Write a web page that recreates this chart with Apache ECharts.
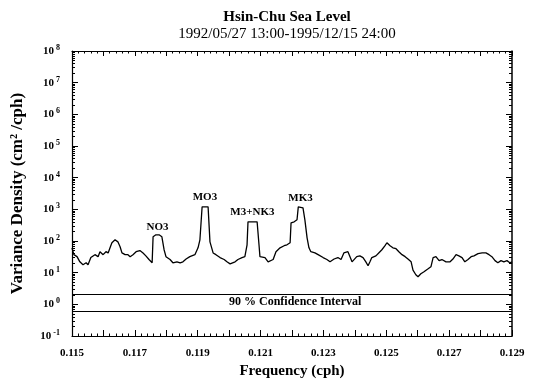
<!DOCTYPE html>
<html><head><meta charset="utf-8">
<script src="https://cdn.jsdelivr.net/npm/echarts@6/dist/echarts.min.js"></script>
<style>html,body{margin:0;padding:0;background:#fff}#c{width:534px;height:390px}</style>
</head><body><div id="c"></div>
<script>
const titleLine1 = 'Hsin-Chu Sea Level';
const titleLine2 = '1992/05/27 13:00-1995/12/15 24:00';
const xAxisName = 'Frequency (cph)';
const yAxisName = 'Variance Density (cm\u00B2 /cph)';
const freq = [0.11500,0.11506,0.11516,0.11525,0.11535,0.11545,0.11551,0.11560,0.11573,0.11583,0.11589,0.11599,0.11608,0.11615,0.11621,0.11627,0.11637,0.11646,0.11653,0.11659,0.11669,0.11678,0.11685,0.11694,0.11704,0.11716,0.11726,0.11735,0.11745,0.11755,0.11758,0.11767,0.11777,0.11786,0.11793,0.11799,0.11812,0.11821,0.11834,0.11844,0.11853,0.11863,0.11875,0.11891,0.11901,0.11907,0.11914,0.11933,0.11939,0.11949,0.11958,0.11971,0.11984,0.11993,0.12003,0.12009,0.12019,0.12028,0.12041,0.12050,0.12057,0.12060,0.12089,0.12095,0.12098,0.12114,0.12124,0.12130,0.12140,0.12149,0.12162,0.12175,0.12184,0.12194,0.12197,0.12207,0.12216,0.12220,0.12235,0.12241,0.12248,0.12254,0.12260,0.12273,0.12283,0.12299,0.12311,0.12321,0.12334,0.12346,0.12356,0.12365,0.12378,0.12384,0.12391,0.12397,0.12406,0.12416,0.12426,0.12435,0.12442,0.12448,0.12454,0.12467,0.12476,0.12486,0.12496,0.12502,0.12512,0.12521,0.12531,0.12540,0.12550,0.12560,0.12569,0.12579,0.12585,0.12594,0.12601,0.12610,0.12620,0.12632,0.12642,0.12649,0.12658,0.12668,0.12677,0.12690,0.12703,0.12712,0.12722,0.12731,0.12741,0.12750,0.12760,0.12770,0.12779,0.12792,0.12805,0.12817,0.12827,0.12836,0.12846,0.12855,0.12865,0.12874,0.12884,0.12893,0.12900];
const density = [60,37,32,22,17.7,20.5,17.7,30,37,32,46,37,46,42,61,88,109,94,66,42,37,37,32,37,46,50,42,34,26,20.5,136,157,157,136,53,32,26,20.5,22,20.5,22,27,32,37,61,109,1200,1200,94,42,37,30,26,22,19,17.7,22,26,30,32,76,404,404,76,32,30,22,20.5,26,46,61,71,76,88,375,404,467,1200,1110,467,126,61,46,42,37,30,26,22,27,30,26,42,46,42,22,20.5,32,34,30,22,16.5,22,30,34,42,53,71,88,71,61,57,46,37,32,27,22,12,8.6,7.4,9.2,10.7,13,15.3,30,32,24,26,22,22,27,37,34,30,22,26,32,34,40,42,42,37,32,24,20.5,24,22,24,20.5,22];
const ciBounds = [2.05, 0.6];
const ciLabel = '90 % Confidence Interval';
const ciLabelPos = [0.1221, 1.16];
const peakNames = ['NO3', 'MO3', 'M3+NK3', 'MK3'];
const peakFreqs = [0.11772, 0.11923, 0.12074, 0.12227];
const peakLabelValues = [280, 2480, 834, 2300];
const xMin = 0.115, xMax = 0.129, xStep = 0.001;
const yMin = 0.1, yMax = 1e8;

const FONT = 'Liberation Serif';
const chart = echarts.init(document.getElementById('c'), null, {renderer: 'canvas'});
const lineData = freq.map((f, i) => [f, density[i]]);
const grid = {left: 72, right: 22, top: 51, bottom: 54};
const tickStyle = {lineStyle: {color: '#000', width: 1}};
chart.setOption({
  backgroundColor: '#fff',
  animation: false,
  title: [
    {text: titleLine1, left: 282, top: 5, textAlign: 'center',
     textStyle: {fontFamily: FONT, fontWeight: 'bold', fontSize: 15, color: '#000'}},
    {text: titleLine2, left: 282, top: 22, textAlign: 'center',
     textStyle: {fontFamily: FONT, fontWeight: 'normal', fontSize: 15, color: '#000'}}
  ],
  grid: grid,
  xAxis: [{
    type: 'value', min: xMin, max: xMax, interval: xStep,
    name: xAxisName, nameLocation: 'middle', nameGap: 28,
    nameTextStyle: {fontFamily: FONT, fontWeight: 'bold', fontSize: 15, color: '#000'},
    axisLine: {lineStyle: {color: '#000', width: 1.2}},
    axisTick: {inside: true, length: 6, ...tickStyle},
    minorTick: {show: true, splitNumber: 5, length: 2.5, lineStyle: {color: '#000'}},
    splitLine: {show: false},
    axisLabel: {margin: 12, fontFamily: FONT, fontWeight: 'bold', fontSize: 11, color: '#000',
      formatter: v => { const k = Math.round((v - xMin) / xStep); return k % 2 ? '' : v.toFixed(3); }}
  }, {
    type: 'value', min: xMin, max: xMax, interval: xStep, position: 'top',
    axisLine: {lineStyle: {color: '#000', width: 1.2}},
    axisTick: {inside: true, length: 5, ...tickStyle},
    minorTick: {show: true, splitNumber: 5, length: 2.5, lineStyle: {color: '#000'}},
    splitLine: {show: false}, axisLabel: {show: false}
  }],
  yAxis: [{
    type: 'log', logBase: 10, min: yMin, max: yMax,
    name: yAxisName, nameLocation: 'middle', nameGap: 46, nameRotate: 90,
    nameTextStyle: {fontFamily: FONT, fontWeight: 'bold', fontSize: 17, color: '#000'},
    axisLine: {lineStyle: {color: '#000', width: 1.2}},
    axisTick: {inside: true, length: 6, ...tickStyle},
    minorTick: {show: true, splitNumber: 9, length: 3, lineStyle: {color: '#000'}},
    splitLine: {show: false},
    axisLabel: {margin: 12,
      formatter: v => '{b|10}{s|' + Math.round(Math.log10(v)) + '}',
      rich: {
        b: {fontFamily: FONT, fontWeight: 'bold', fontSize: 11, color: '#000'},
        s: {fontFamily: FONT, fontWeight: 'bold', fontSize: 8, color: '#000', verticalAlign: 'top', padding: [0, 0, 6, 2]}
      }}
  }, {
    type: 'log', logBase: 10, min: yMin, max: yMax, position: 'right',
    axisLine: {lineStyle: {color: '#000', width: 1.5}},
    axisTick: {inside: true, length: 6, ...tickStyle},
    minorTick: {show: true, splitNumber: 9, length: 3, lineStyle: {color: '#000'}},
    splitLine: {show: false}, axisLabel: {show: false}
  }],
  series: [{
    type: 'line', data: lineData, showSymbol: false, symbol: 'none',
    lineStyle: {color: '#000', width: 1.3}, z: 3,
    markPoint: {
      symbol: 'circle', symbolSize: 0,
      label: {show: true, position: 'inside', fontFamily: FONT, fontWeight: 'bold', fontSize: 11, color: '#000',
        formatter: p => p.name},
      data: peakNames.map((n, i) => ({name: n, coord: [peakFreqs[i], peakLabelValues[i]]}))
    }
  }, {
    type: 'line', data: [], symbol: 'none',
    markLine: {
      silent: true, symbol: 'none', label: {show: false},
      lineStyle: {color: '#000', width: 1.2, type: 'solid'},
      data: ciBounds.map(v => ({yAxis: v}))
    },
    markPoint: {
      symbol: 'circle', symbolSize: 0,
      label: {show: true, position: 'inside', fontFamily: FONT, fontWeight: 'bold', fontSize: 12, color: '#000',
        formatter: p => p.name},
      data: [{name: ciLabel, coord: ciLabelPos}]
    }
  }]
});
</script></body></html>
